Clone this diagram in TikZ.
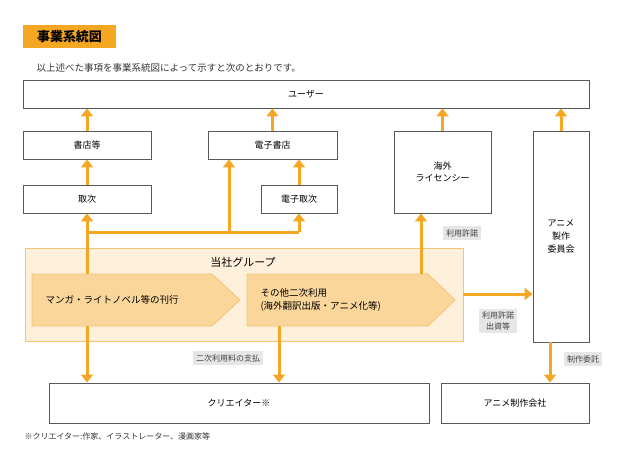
\documentclass[tikz,border=0pt]{standalone}
\usepackage{fontspec}
\setmainfont{Noto Sans CJK JP}
\usetikzlibrary{arrows.meta,shapes.symbols}
\definecolor{org}{HTML}{F5A623}
\definecolor{grpfill}{HTML}{FEF0DA}
\definecolor{pentfill}{HTML}{FAD69B}
\definecolor{pentline}{HTML}{F6C374}
\definecolor{lab}{HTML}{E6E6E6}
\begin{document}
\begin{tikzpicture}[x=1pt,y=-1pt,
  box/.style={draw=black!65,line width=0.9pt,fill=white,font=\fontsize{9}{12}\selectfont,align=center,inner sep=0pt},
  arr/.style={draw=org,line width=3pt,-{Triangle[length=8pt,width=12pt]}},
  ln/.style={draw=org,line width=3pt},
  lbl/.style={fill=lab,font=\fontsize{8}{11}\selectfont,align=center,inner sep=3pt,text=black!75},
  pent/.style={fill=pentfill,draw=pentline,line width=0.8pt}]
\useasboundingbox (0,0) rectangle (624,456);
\node[fill=org,minimum width=93pt,minimum height=23pt,inner sep=0pt,font=\bfseries\fontsize{13}{15}\selectfont] (title) at (69.5,36.5) {事業系統図};
\node[anchor=west,font=\fontsize{9.5}{12}\selectfont,text=black!80] (sub) at (33,68) {以上述べた事項を事業系統図によって示すと次のとおりです。};
\node[box,minimum width=566pt,minimum height=28pt] (user) at (306,94) {ユーザー};
\node[box,minimum width=128pt,minimum height=28pt] (shoten) at (87,145) {書店等};
\node[box,minimum width=129pt,minimum height=28pt] (dshoten) at (272.5,145) {電子書店};
\node[box,minimum width=97pt,minimum height=82pt] (kaigai) at (442.5,172) {海外\\ライセンシー};
\node[box,minimum width=56pt,minimum height=211pt] (anime) at (561,236.5) {};
\node[font=\fontsize{9}{13}\selectfont,align=center] (animet) at (561,236) {アニメ\\製作\\委員会};
\node[box,minimum width=128pt,minimum height=28pt] (toritsugi) at (87,199) {取次};
\node[box,minimum width=76pt,minimum height=28pt] (dtori) at (299,199) {電子取次};
\node[draw=pentline,fill=grpfill,line width=0.8pt,minimum width=438pt,minimum height=93pt,inner sep=0pt] (grp) at (244,294.5) {};
\node[font=\fontsize{11}{13}\selectfont] (grpt) at (243,262) {当社グループ};
\path[pent] (32,274) -- (212,274) -- (240,300) -- (212,326) -- (32,326) -- cycle;
\path[pent] (247,274) -- (428,274) -- (455,300) -- (428,326) -- (247,326) -- cycle;
\node[anchor=west,font=\fontsize{9.5}{12}\selectfont] (p1) at (42,300) {マンガ・ライトノベル等の刊行};
\node[anchor=west,font=\fontsize{9.5}{13}\selectfont,align=left] (p2) at (257,300) {その他二次利用\\(海外翻訳出版・アニメ化等)};
\coordinate (p1bot) at (87,326);
\coordinate (p2top) at (421,274);
\coordinate (p2bot) at (279,326);
\coordinate (grpr) at (463,294);
\coordinate (anbot) at (550,342);
\node[box,minimum width=380pt,minimum height=40pt] (creator) at (239,403) {クリエイター※};
\node[box,minimum width=148pt,minimum height=40pt] (seisaku) at (515,403) {アニメ制作会社};
\node[anchor=west,font=\fontsize{8}{10}\selectfont,text=black!80] (note) at (21,436) {※クリエイター:作家、イラストレーター、漫画家等};
\draw[arr] (shoten.north) -- (shoten.north |- user.south);
\draw[arr] (dshoten.north) -- (dshoten.north |- user.south);
\draw[arr] (kaigai.north) -- (kaigai.north |- user.south);
\draw[arr] (anime.north) -- (anime.north |- user.south);
\draw[arr] (toritsugi.north) -- (shoten.south);
\draw[arr] (dtori.north) -- (dtori.north |- dshoten.south);
\coordinate (j0) at (85.5,232);
\coordinate (j1) at (87,232);
\coordinate (j2) at (299,232);
\coordinate (j3) at (229,233.5);
\coordinate (j4) at (87,274);
\draw[ln] (j0) -- (j2);
\draw[arr] (j1) -- (toritsugi.south);
\draw[arr] (j2) -- (dtori.south);
\draw[arr] (j3) -- (j3 |- dshoten.south);
\draw[ln] (j1) -- (j4);
\draw[arr] (p1bot) -- (p1bot |- creator.north);
\draw[arr] (p2top) -- (p2top |- kaigai.south);
\draw[arr] (p2bot) -- (p2bot |- creator.north);
\draw[arr] (grpr) -- (grpr -| anime.west);
\draw[arr] (anbot) -- (anbot |- seisaku.north);
\node[lbl] (l1) at (462,233) {利用許諾};
\node[lbl] (l2) at (498,321) {利用許諾\\出資等};
\node[lbl] (l3) at (228,358) {二次利用料の支払};
\node[lbl] (l4) at (583,359) {制作委託};
\end{tikzpicture}
\end{document}
